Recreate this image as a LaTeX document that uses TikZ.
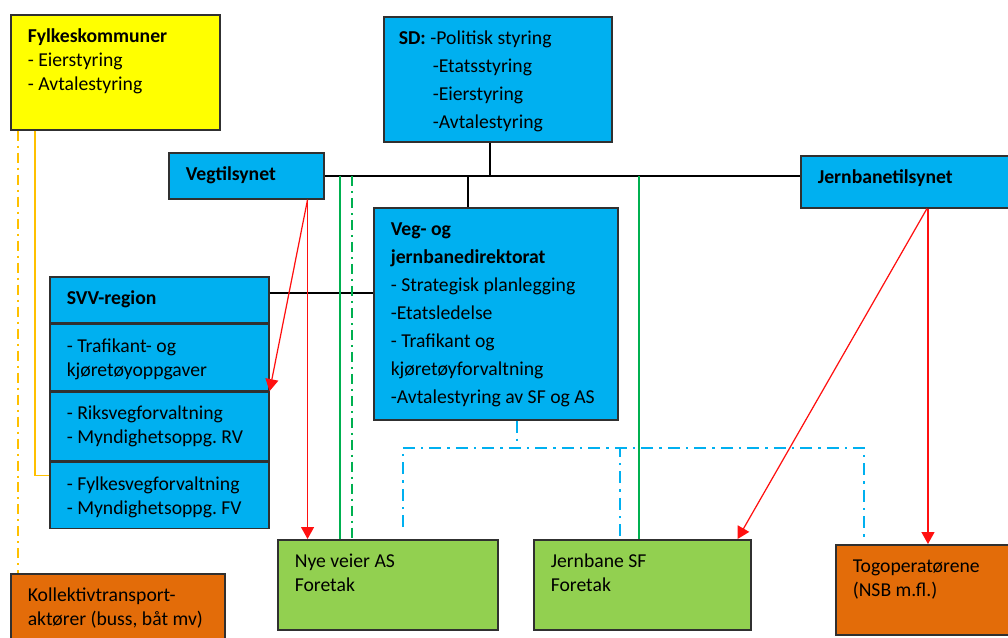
\documentclass[tikz,border=0pt]{standalone}
\usepackage{fontspec}
\setmainfont{Carlito}
\usetikzlibrary{arrows.meta}
\definecolor{blaa}{HTML}{00B0F0}
\definecolor{gul}{HTML}{FFFF00}
\definecolor{lysgronn}{HTML}{92D050}
\definecolor{brun}{HTML}{E36C09}
\definecolor{ramme}{HTML}{303030}
\definecolor{rod}{HTML}{FF1010}
\definecolor{gronnlinje}{HTML}{00B050}
\definecolor{oransjelinje}{HTML}{FFC000}

\begin{document}
\begin{tikzpicture}[x=0.02cm, y=-0.02cm,
    boks/.style={draw=ramme, line width=0.9pt, anchor=north west, align=flush left, inner xsep=0.34cm, inner ysep=0.2cm, text height=0.36cm, font=\fontsize{11.2pt}{13.6pt}\selectfont\frenchspacing},
    vid/.style={font=\fontsize{11.2pt}{15.9pt}\selectfont\frenchspacing},
    svart/.style={draw=black, line width=1.1pt},
    pil/.style={draw=rod, line width=0.7pt, -{Triangle[width=0.26cm, length=0.24cm]}},
    gronn/.style={draw=gronnlinje, line width=0.75pt},
    strekprikk/.style={dash pattern=on 0.2cm off 0.1cm on 0.04cm off 0.1cm},
    blaastrek/.style={draw=blaa, line width=1.1pt, dash pattern=on 0.24cm off 0.12cm on 0.05cm off 0.12cm}]
    \useasboundingbox (0,0) rectangle (1008,637);
    \clip (0,0) rectangle (1008,637);
    % bokser
    \node[boks, fill=gul, text width=3.50cm, text depth=1.54cm] (fylke) at (10,14) {\textbf{Fylkeskommuner}\\- Eierstyring\\- Avtalestyring};
    \node[boks, vid, fill=blaa, inner xsep=0.3cm, text width=3.96cm, text depth=1.74cm] (sd) at (383,16) {\textbf{SD:} -Politisk styring\\\hspace*{0.68cm}-Etatsstyring\\\hspace*{0.68cm}-Eierstyring\\\hspace*{0.68cm}-Avtalestyring};
    \node[boks, fill=blaa, text width=2.42cm, text depth=0.16cm] (vegtilsyn) at (168,152) {\textbf{Vegtilsynet}};
    \node[boks, fill=blaa, text width=3.92cm, text depth=0.28cm] (jbtilsyn) at (800,155) {\textbf{Jernbanetilsynet}};
    \node[boks, vid, fill=blaa, text width=4.20cm, text depth=3.48cm] (vegdir) at (373,207) {\textbf{Veg- og}\\\textbf{jernbanedirektorat}\\- Strategisk planlegging\\-Etatsledelse\\- Trafikant og\\kjøretøyforvaltning\\-Avtalestyring av SF og AS};
    \node[boks, fill=blaa, text width=3.70cm, text depth=0.16cm] (svv) at (49,276) {\textbf{SVV-region}};
    \node[boks, fill=blaa, text width=3.70cm, text depth=0.56cm] (svvTrafikant) at (svv.south west) {- Trafikant- og\\kjøretøyoppgaver};
    \node[boks, fill=blaa, text width=3.70cm, text depth=0.62cm] (svvRiks) at (svvTrafikant.south west) {- Riksvegforvaltning\\- Myndighetsoppg. RV};
    \node[boks, fill=blaa, text width=3.70cm, text depth=0.56cm] (svvFylke) at (svvRiks.south west) {- Fylkesvegforvaltning\\- Myndighetsoppg. FV};
    \node[boks, fill=brun, text width=3.60cm, text depth=1.04cm] (kollektiv) at (10,573) {Kollektivtransport-\\aktører (buss, båt mv)};
    \node[boks, fill=lysgronn, text width=3.72cm, text depth=1.04cm] (nye) at (277,539) {Nye veier AS\\Foretak};
    \node[boks, fill=lysgronn, text width=3.66cm, text depth=1.04cm] (jbsf) at (533,539) {Jernbane SF\\Foretak};
    \node[boks, fill=brun, text width=3.52cm, text depth=1.04cm] (tog) at (835,544) {Togoperatørene\\(NSB m.fl.)};
    % styringslinjer
    \draw[svart] ([xshift=-0.16cm]sd.south) -- ([xshift=-0.16cm]sd.south |- vegtilsyn.east);
    \draw[svart] (vegtilsyn.east) -- (vegtilsyn.east -| jbtilsyn.west);
    \draw[svart] ([xshift=-0.56cm]vegdir.north) -- ([xshift=-0.56cm]vegdir.north |- vegtilsyn.east);
    \draw[svart] ([yshift=0.14cm]svv.east) -- ([yshift=0.14cm]svv.east -| vegdir.west);
    % eierlinjer
    \draw[gronn] ([xshift=1.26cm]nye.north west |- vegtilsyn.east) -- ([xshift=1.26cm]nye.north west);
    \draw[gronn, strekprikk] ([xshift=1.5cm]nye.north west |- vegtilsyn.east) -- ([xshift=1.5cm]nye.north west);
    \draw[gronn] ([xshift=2.12cm]jbsf.north west |- vegtilsyn.east) -- ([xshift=2.12cm]jbsf.north west);
    \draw[draw=oransjelinje, line width=0.75pt] ([xshift=0.5cm]fylke.south west) |- ([yshift=0.4cm]svvFylke.west);
    \draw[draw=oransjelinje, line width=0.75pt, strekprikk] ([xshift=0.16cm]fylke.south west) -- ([xshift=0.16cm]fylke.south west |- kollektiv.north);
    % tilsyn
    \draw[pil] ([xshift=-0.34cm]vegtilsyn.south east) -- (svvRiks.north east);
    \draw[pil] ([xshift=-0.34cm]vegtilsyn.south east) -- ([xshift=-0.34cm]vegtilsyn.south east |- nye.north);
    \draw[pil] ([xshift=2.54cm]jbtilsyn.south west) -- ([xshift=-0.28cm]jbsf.north east);
    \draw[pil] ([xshift=2.56cm]jbtilsyn.south west) -- ([xshift=2.56cm]jbtilsyn.south west |- tog.north);
    % avtaler
    \coordinate (avtale) at ([xshift=0.42cm, yshift=-0.54cm]vegdir.south);
    \draw[blaastrek] ([xshift=0.42cm]vegdir.south) -- (avtale);
    \draw[blaastrek] ([xshift=2.52cm, yshift=0.24cm]nye.north west) |- ([xshift=0.58cm]tog.north west |- avtale) -- ([xshift=0.58cm, yshift=0.14cm]tog.north west);
    \draw[blaastrek] ([xshift=1.74cm, yshift=0.06cm]jbsf.north west) -- ([xshift=1.74cm]jbsf.north west |- avtale);
\end{tikzpicture}
\end{document}
